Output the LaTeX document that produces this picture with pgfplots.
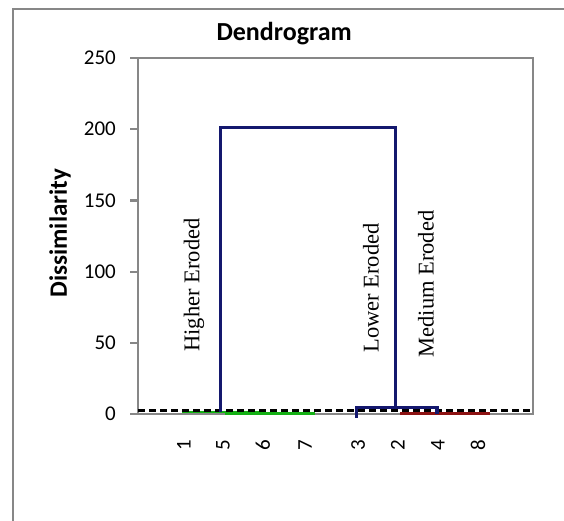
\documentclass[border=0pt]{standalone}
\usepackage{fontspec}
\setmainfont{Carlito}
\newfontfamily\timesfont{Liberation Serif}
\usepackage{pgfplots}
\pgfplotsset{compat=1.18}
\definecolor{axgray}{RGB}{135,135,135}
\definecolor{navy}{RGB}{20,24,110}
\definecolor{leafgreen}{RGB}{20,176,20}
\definecolor{leafred}{RGB}{140,18,18}
\begin{document}
\begin{tikzpicture}
\useasboundingbox (-138pt,-106pt) rectangle (426pt,414pt);
% chart frame (only left and top edges visible)
\draw[axgray, line width=2pt] (-125pt,-110pt) -- (-125pt,405pt) -- (430pt,405pt);
\begin{axis}[
    at={(0pt,0pt)}, anchor=south west,
    scale only axis, width=395pt, height=356pt,
    xmin=0, xmax=10, ymin=0, ymax=250,
    clip=false,
    axis line style={axgray, line width=2.2pt},
    ytick={0,50,...,250},
    ytick pos=left,
    xtick={1.16,2.15,3.16,4.23,5.57,6.58,7.59,8.61},
    xticklabels={1,5,6,7,3,2,4,8},
    x tick style={draw=none},
    y tick style={axgray, line width=2.2pt},
    tick align=outside, major tick length=8pt,
    /pgf/number format/assume math mode=true,
    tick label style={font=\fontsize{21}{25}\selectfont},
    xticklabel style={rotate=90, anchor=east, inner sep=0pt},
    xticklabel shift=18pt,
    yticklabel style={inner sep=0pt, xshift=-14pt},
    title={\bfseries Dendrogram},
    title style={at={(axis description cs:0.37,1.052)}, anchor=center, yshift=0pt, font=\fontsize{26}{30}\selectfont},
    ylabel={\bfseries Dissimilarity},
    ylabel style={at={(axis description cs:-0.197,0.508)}, anchor=center, font=\fontsize{25}{29}\selectfont},
]
% leaf-level links
\addplot[leafgreen, line width=2.2pt] coordinates {(1.11,1.2)(2.20,1.2)};
\addplot[leafgreen, line width=4pt] coordinates {(2.20,0.8)(3.14,0.8)};
\addplot[leafgreen, line width=2.6pt] coordinates {(3.14,0.3)(4.48,0.3)};
\addplot[leafred, line width=2.6pt] coordinates {(6.63,0.3)(8.91,0.3)};
% truncation level
\addplot[black, line width=3pt, dash pattern=on 7pt off 4pt] coordinates {(0,2.8)(10,2.8)};
% upper links
\addplot[navy, line width=3.2pt] coordinates {(2.08,1.5)(2.08,201)(6.51,201)(6.51,4.6)};
\addplot[navy, line width=3.2pt] coordinates {(5.54,-2.5)(5.54,4.6)(7.57,4.6)(7.57,0.3)};
% class names
\node[rotate=90, font=\timesfont\fontsize{22.5}{26}\selectfont] at (axis cs:1.42,90.6) {Higher Eroded};
\node[rotate=90, font=\timesfont\fontsize{22.5}{26}\selectfont] at (axis cs:5.9,88.5) {Lower Eroded};
\node[rotate=90, font=\timesfont\fontsize{22.5}{26}\selectfont] at (axis cs:7.29,91.3) {Medium Eroded};
\end{axis}
\end{tikzpicture}
\end{document}
